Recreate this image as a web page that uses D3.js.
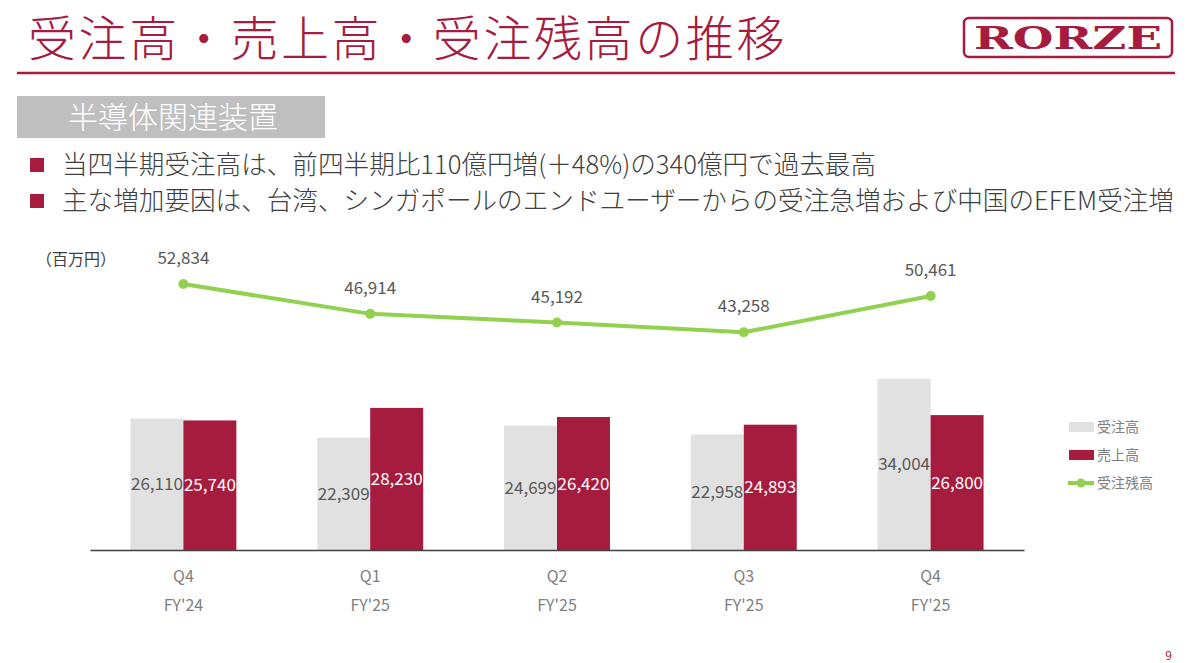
<!DOCTYPE html>
<html>
<head>
<meta charset="utf-8">
<script src="https://cdn.jsdelivr.net/npm/d3@7"></script>
<style>
  html, body { margin: 0; padding: 0; background: #fff; }
  svg { display: block; font-family: "Noto Sans CJK JP", "Noto Sans", sans-serif; }
</style>
</head>
<body>
<svg id="chart" width="1200" height="663"></svg>
<script>
// Data (百万円)
const quarters = ['Q4', 'Q1', 'Q2', 'Q3', 'Q4'];
const fiscalYears = ["FY'24", "FY'25", "FY'25", "FY'25", "FY'25"];
const orders = [26110, 22309, 24699, 22958, 34004];      // 受注高
const sales = [25740, 28230, 26420, 24893, 26800];       // 売上高
const backlog = [52834, 46914, 45192, 43258, 50461];     // 受注残高
const seriesNames = ['受注高', '売上高', '受注残高'];

const bullets = [
  '当四半期受注高は、前四半期比110億円増(＋48%)の340億円で過去最高',
  '主な増加要因は、台湾、シンガポールのエンドユーザーからの受注急増および中国のEFEM受注増'
];

const red = '#a61c3f';
const grayBar = '#e1e1e1';
const green = '#92d050';

const svg = d3.select('#chart');

// Header
svg.append('text')
  .attr('x', 28)
  .attr('y', 56)
  .attr('font-size', 48)
  .attr('font-weight', 300)
  .attr('letter-spacing', 2.6)
  .attr('fill', red)
  .text('受注高・売上高・受注残高の推移');

svg.append('line')
  .attr('x1', 17).attr('x2', 1175)
  .attr('y1', 73).attr('y2', 73)
  .attr('stroke', red)
  .attr('stroke-width', 2.5);

// Logo
const logo = svg.append('g');
logo.append('rect')
  .attr('x', 964).attr('y', 18)
  .attr('width', 208).attr('height', 39)
  .attr('rx', 5)
  .attr('fill', 'none')
  .attr('stroke', red)
  .attr('stroke-width', 2.5);
logo.append('text')
  .attr('x', 1068).attr('y', 49)
  .attr('text-anchor', 'middle')
  .attr('font-family', '"DejaVu Serif", serif')
  .attr('font-weight', 'bold')
  .attr('font-size', 31)
  .attr('textLength', 188)
  .attr('lengthAdjust', 'spacingAndGlyphs')
  .attr('fill', red)
  .text('RORZE');

// Section box
svg.append('rect')
  .attr('x', 17).attr('y', 96)
  .attr('width', 308).attr('height', 42)
  .attr('fill', '#bfbfbf');
svg.append('text')
  .attr('x', 173).attr('y', 128)
  .attr('text-anchor', 'middle')
  .attr('font-size', 30)
  .attr('font-weight', 300)
  .attr('fill', '#fff')
  .text('半導体関連装置');

// Bullets
const bl = svg.append('g')
  .selectAll('g')
  .data(bullets)
  .join('g')
  .attr('transform', (d, i) => `translate(0,${165 + i * 36})`);
bl.append('rect')
  .attr('x', 30).attr('y', -7)
  .attr('width', 14).attr('height', 14)
  .attr('fill', red);
bl.append('text')
  .attr('x', 62)
  .attr('y', 9)
  .attr('font-size', 25.6)
  .attr('font-weight', 300)
  .attr('fill', '#404040')
  .text((d) => d);

// Chart
const baseY = 550;
const x = d3.scaleBand()
  .domain(d3.range(quarters.length))
  .range([90, 1024])
  .paddingInner(0.433)
  .paddingOuter(0.2165);

const sub = d3.scaleBand()
  .domain([0, 1])
  .range([0, x.bandwidth()]);

const y = d3.scaleLinear()
  .domain([0, 60000])
  .range([baseY, baseY - 302]);

svg.append('text')
  .attr('x', 36).attr('y', 265)
  .attr('font-size', 16)
  .attr('fill', '#404040')
  .text('（百万円）');

const g = svg.append('g');

const barData = [orders, sales];
const barColors = [grayBar, red];
const labelColors = ['#595959', '#ffffff'];

barData.forEach((vals, s) => {
  g.append('g')
    .selectAll('rect')
    .data(vals)
    .join('rect')
    .attr('x', (d, i) => x(i) + sub(s))
    .attr('y', (d) => y(d))
    .attr('width', sub.bandwidth())
    .attr('height', (d) => y(0) - y(d))
    .attr('fill', barColors[s]);

  g.append('g')
    .selectAll('text')
    .data(vals)
    .join('text')
    .attr('x', (d, i) => x(i) + sub(s) + sub.bandwidth() / 2)
    .attr('y', (d) => (y(d) + y(0)) / 2 + 6)
    .attr('text-anchor', 'middle')
    .attr('font-size', 17)
    .attr('fill', labelColors[s])
    .text((d) => d3.format(',')(d));
});

// Axis
const xAxis = g.append('g')
  .attr('transform', `translate(0,${baseY})`)
  .call(d3.axisBottom(x).tickSize(0).tickFormat(() => ''));
xAxis.select('.domain')
  .attr('stroke', '#404040')
  .attr('stroke-width', 1.5);

const tickLabels = g.append('g')
  .selectAll('g')
  .data(quarters)
  .join('g')
  .attr('transform', (d, i) => `translate(${x(i) + x.bandwidth() / 2},0)`);
tickLabels.append('text')
  .attr('y', 582)
  .attr('text-anchor', 'middle')
  .attr('font-size', 16)
  .attr('fill', '#7f7f7f')
  .text((d) => d);
tickLabels.append('text')
  .attr('y', 611)
  .attr('text-anchor', 'middle')
  .attr('font-size', 16)
  .attr('fill', '#7f7f7f')
  .text((d, i) => fiscalYears[i]);

// Backlog line
const line = d3.line()
  .x((d, i) => x(i) + x.bandwidth() / 2)
  .y((d) => y(d));

g.append('path')
  .datum(backlog)
  .attr('fill', 'none')
  .attr('stroke', green)
  .attr('stroke-width', 4)
  .attr('d', line);

g.append('g')
  .selectAll('circle')
  .data(backlog)
  .join('circle')
  .attr('cx', (d, i) => x(i) + x.bandwidth() / 2)
  .attr('cy', (d) => y(d))
  .attr('r', 5)
  .attr('fill', green);

g.append('g')
  .selectAll('text')
  .data(backlog)
  .join('text')
  .attr('x', (d, i) => x(i) + x.bandwidth() / 2)
  .attr('y', (d) => y(d) - 20)
  .attr('text-anchor', 'middle')
  .attr('font-size', 17)
  .attr('fill', '#595959')
  .text((d) => d3.format(',')(d));

// Legend
const legend = svg.append('g')
  .selectAll('g')
  .data(seriesNames)
  .join('g')
  .attr('transform', (d, i) => `translate(1068,${427 + i * 28})`);
legend.each(function (d, i) {
  const l = d3.select(this);
  if (i < 2) {
    l.append('rect')
      .attr('x', 1).attr('y', -5)
      .attr('width', 25).attr('height', 10)
      .attr('fill', barColors[i]);
  } else {
    l.append('line')
      .attr('x1', 0).attr('x2', 26)
      .attr('stroke', green)
      .attr('stroke-width', 4);
    l.append('circle')
      .attr('cx', 13).attr('r', 4.5)
      .attr('fill', green);
  }
});
legend.append('text')
  .attr('x', 29)
  .attr('y', 5)
  .attr('font-size', 14)
  .attr('fill', '#7f7f7f')
  .text((d) => d);

// Page number
svg.append('text')
  .attr('x', 1172).attr('y', 660)
  .attr('text-anchor', 'end')
  .attr('font-size', 12)
  .attr('fill', red)
  .text('9');
</script>
</body>
</html>
